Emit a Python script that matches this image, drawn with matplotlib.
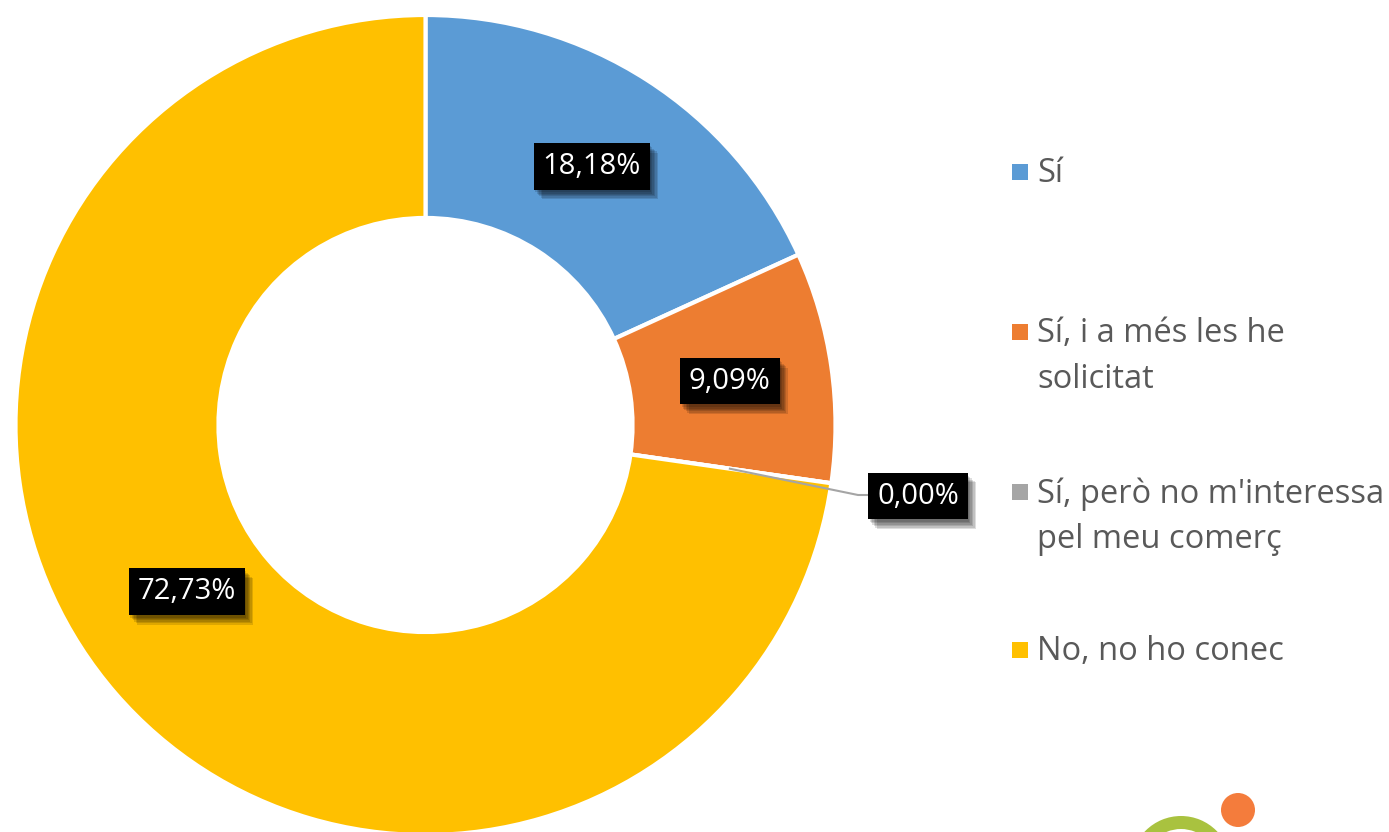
import matplotlib.pyplot as plt
import matplotlib.patheffects as pe
from matplotlib.patches import Rectangle, Circle, Wedge
import numpy as np

# Responses to the survey question
labels = ["Sí", "Sí, i a més les he\nsolicitat", "Sí, però no m'interessa\npel meu comerç", "No, no ho conec"]
values = [18.18, 9.09, 0.00, 72.73]
colors = ["#5B9BD5", "#ED7D31", "#A5A5A5", "#FFC000"]
value_text = ["18,18%", "9,09%", "0,00%", "72,73%"]

FONT = ["Open Sans", "DejaVu Sans"]
W, H = 1389, 832

fig = plt.figure(figsize=(W / 100, H / 100), dpi=100)

# Background axes in pixel coordinates for legend and logo
bg = fig.add_axes([0, 0, 1, 1])
bg.set_xlim(0, W)
bg.set_ylim(H, 0)
bg.axis("off")

# Donut: centre (425, 425) px, outer radius 410 px
cx, cy, R = 425.5, 425, 410
ax = fig.add_axes([(cx - R) / W, (H - cy - R) / H, 2 * R / W, 2 * R / H])
wedges, _ = ax.pie(values, colors=colors, startangle=90, counterclock=False,
                   radius=1.0,
                   wedgeprops=dict(width=0.495, edgecolor="white", linewidth=3))
ax.set_xlim(-1, 1)
ax.set_ylim(-1, 1)
ax.set_aspect("equal")
ax.axis("off")


def px(x, y):
    # pixel position -> donut data coordinates
    return (x - cx) / R, (cy - y) / R


# soft drop shadow made of a few faint offset copies
shadow = [pe.SimplePatchShadow(offset=(o, -o - 1), shadow_rgbFace="black", alpha=0.13)
          for o in (1, 2, 3, 4, 5, 6)] + [pe.Normal()]


def boxed(x, y, s):
    t = ax.text(x, y, s, ha="center", va="center", fontsize=21, color="white",
                family=FONT, zorder=5,
                bbox=dict(boxstyle="square,pad=0.3", fc="black", ec="none"))
    t.get_bbox_patch().set_path_effects(shadow)
    return t


# Data labels
fracs = np.array(values) / sum(values)
starts = 90 - 360 * np.concatenate([[0], np.cumsum(fracs)[:-1]])
mids = starts - 360 * fracs / 2
label_r = [0.75, 0.75, 0.75, 0.71]
angle_shift = [0, 0, 0, -6]

for i, s in enumerate(value_text):
    if values[i] == 0:
        continue
    a = np.radians(mids[i] + angle_shift[i])
    boxed(label_r[i] * np.cos(a), label_r[i] * np.sin(a), s)

# Zero-value slice: leader line out to its label
zi = values.index(0.00)
a = np.radians(mids[zi])
x0, y0 = label_r[zi] * np.cos(a), label_r[zi] * np.sin(a)
x1, y1 = px(858, 495)
x2, y2 = px(872, 495)
ax.plot([x0, x1, x2], [y0, y1, y2], color="#A5A5A5", lw=1.5, zorder=3,
        clip_on=False)
boxed(*px(918, 496), value_text[zi])

# Legend
leg_y = [172, 332, 492, 650]
line_h = 46
for lab, col, y in zip(labels, colors, leg_y):
    bg.add_patch(Rectangle((1012, y - 8), 16, 16, fc=col, ec="none"))
    for k, line in enumerate(lab.split("\n")):
        bg.text(1037, y + 2 + k * line_h, line, ha="left", va="center",
                fontsize=23.5, color="#595959", family=FONT)

# Logo in the bottom-right corner
bg.add_patch(Wedge((1181, 866), 50, 0, 360, width=13, fc="#A9C23F", ec="none"))
bg.add_patch(Circle((1238, 810), 17, fc="#F47C3C", ec="none"))

fig.savefig("out.png", dpi=100)
